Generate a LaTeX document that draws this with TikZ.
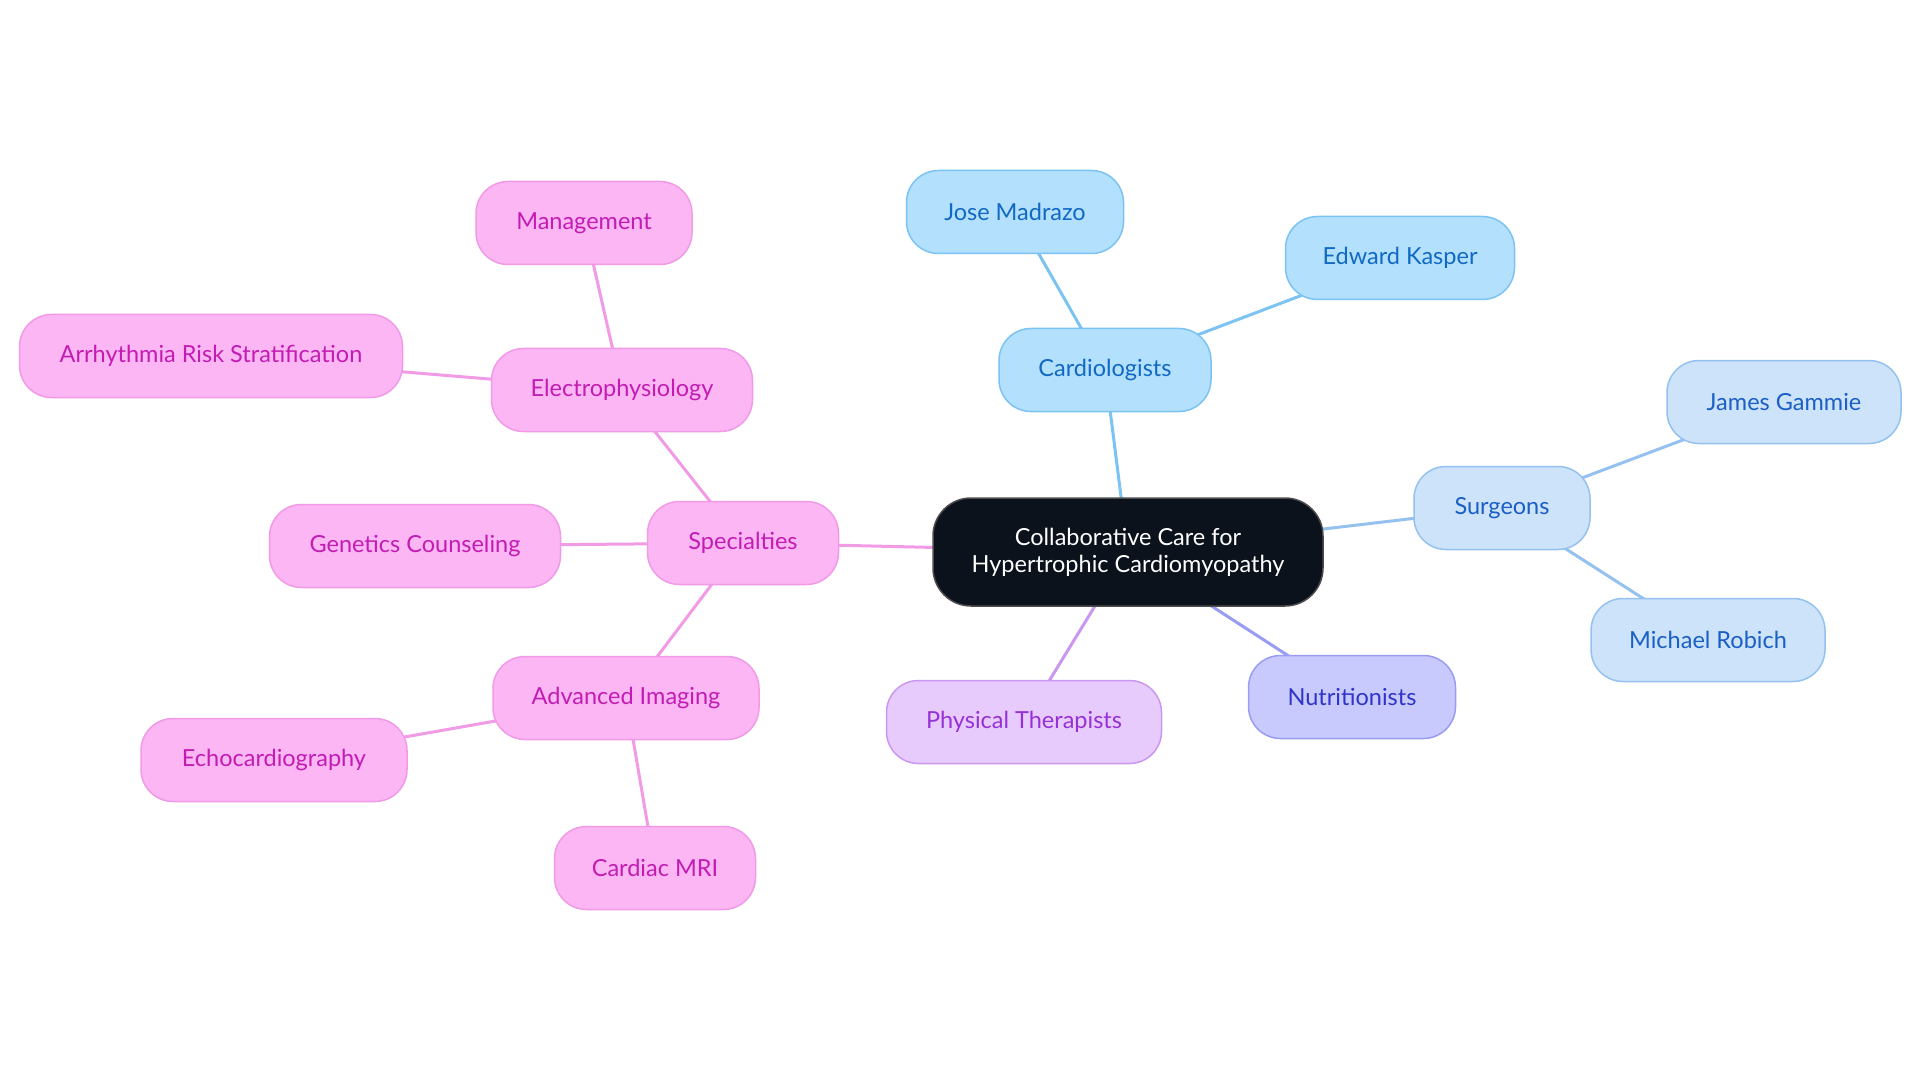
\documentclass[tikz,border=0pt]{standalone}
\usepackage{fontspec}
\setmainfont{Lato}
\usetikzlibrary{arrows,backgrounds}

\definecolor{pinkfill}{HTML}{FCB6F4}
\definecolor{pinkdraw}{HTML}{F19AE6}
\definecolor{pinktext}{HTML}{C21CB3}
\definecolor{cardfill}{HTML}{B3E0FC}
\definecolor{carddraw}{HTML}{7BC3F2}
\definecolor{cardtext}{HTML}{1169C4}
\definecolor{surgfill}{HTML}{CDE3FA}
\definecolor{surgdraw}{HTML}{94C1EF}
\definecolor{surgtext}{HTML}{1A5FC5}
\definecolor{nutrfill}{HTML}{C8CAFD}
\definecolor{nutrdraw}{HTML}{989CF2}
\definecolor{nutrtext}{HTML}{3034C7}
\definecolor{therfill}{HTML}{E8CBFD}
\definecolor{therdraw}{HTML}{CB96EF}
\definecolor{thertext}{HTML}{9532D6}
\definecolor{rootfill}{HTML}{0C121C}

\begin{document}
\begin{tikzpicture}[
	x=1pt, y=-1pt,
	font=\fontsize{23.5}{27}\selectfont,
	topic/.style={draw,rectangle,rounded corners=32pt,line width=1.5pt,minimum height=83pt,inner xsep=30pt,align=center},
	spec/.style={topic,fill=pinkfill,draw=pinkdraw,text=pinktext},
	card/.style={topic,fill=cardfill,draw=carddraw,text=cardtext},
	surg/.style={topic,fill=surgfill,draw=surgdraw,text=surgtext},
	nutr/.style={topic,fill=nutrfill,draw=nutrdraw,text=nutrtext},
	ther/.style={topic,fill=therfill,draw=therdraw,text=thertext},
	link/.style={line width=3pt}
	]
	\useasboundingbox (0, 0) rectangle (1920, 1083);
	% centre
	\node [topic,fill=rootfill,draw=black!70,text=white,minimum width=390pt,minimum height=108pt,rounded corners=38pt] (root) at (1128, 552) {Collaborative Care for\\Hypertrophic Cardiomyopathy};
	% specialties branch
	\node [spec,minimum width=191pt] (specialties) at (743, 543) {Specialties};
	\node [spec,minimum width=261pt] (electro) at (622, 390) {Electrophysiology};
	\node [spec,minimum width=216pt] (management) at (584, 223) {Management};
	\node [spec,minimum width=383pt] (arrhythmia) at (211, 356) {Arrhythmia Risk Stratification};
	\node [spec,minimum width=291pt] (genetics) at (415, 546) {Genetics Counseling};
	\node [spec,minimum width=266pt] (imaging) at (626, 698) {Advanced Imaging};
	\node [spec,minimum width=266pt] (echo) at (274, 760) {Echocardiography};
	\node [spec,minimum width=201pt] (mri) at (655, 868) {Cardiac MRI};
	% cardiologists
	\node [card,minimum width=212pt] (cardio) at (1105, 370) {Cardiologists};
	\node [card,minimum width=217pt] (madrazo) at (1015, 212) {Jose Madrazo};
	\node [card,minimum width=229pt] (kasper) at (1400, 258) {Edward Kasper};
	% surgeons
	\node [surg,minimum width=176pt] (surgeons) at (1502, 508) {Surgeons};
	\node [surg,minimum width=234pt] (gammie) at (1784, 402) {James Gammie};
	\node [surg,minimum width=234pt] (robich) at (1708, 640) {Michael Robich};
	% others
	\node [nutr,minimum width=207pt] (nutri) at (1352, 697) {Nutritionists};
	\node [ther,minimum width=275pt] (therapists) at (1024, 722) {Physical Therapists};

	\begin{pgfonlayer}{background}
	\draw[link,draw=pinkdraw] (root.center) -- (specialties.center);
	\draw[link,draw=pinkdraw] (specialties.center) -- (electro.center);
	\draw[link,draw=pinkdraw] (electro.center) -- (management.center);
	\draw[link,draw=pinkdraw] (electro.center) -- (arrhythmia.center);
	\draw[link,draw=pinkdraw] (specialties.center) -- (genetics.center);
	\draw[link,draw=pinkdraw] (specialties.center) -- (imaging.center);
	\draw[link,draw=pinkdraw] (imaging.center) -- (echo.center);
	\draw[link,draw=pinkdraw] (imaging.center) -- (mri.center);
	\draw[link,draw=carddraw] (root.center) -- (cardio.center);
	\draw[link,draw=carddraw] (cardio.center) -- (madrazo.center);
	\draw[link,draw=carddraw] (cardio.center) -- (kasper.center);
	\draw[link,draw=surgdraw] (root.center) -- (surgeons.center);
	\draw[link,draw=surgdraw] (surgeons.center) -- (gammie.center);
	\draw[link,draw=surgdraw] (surgeons.center) -- (robich.center);
	\draw[link,draw=nutrdraw] (root.center) -- (nutri.center);
	\draw[link,draw=therdraw] (root.center) -- (therapists.center);
	\end{pgfonlayer}
\end{tikzpicture}
\end{document}
